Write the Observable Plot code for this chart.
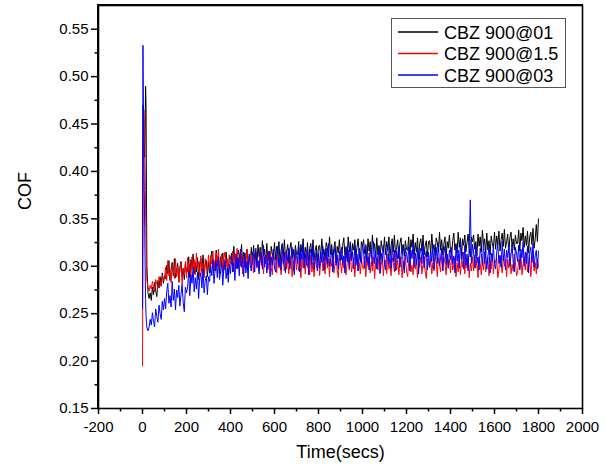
<!DOCTYPE html>
<html>
<head>
<meta charset="utf-8">
<script src="https://cdn.jsdelivr.net/npm/d3@7"></script>
<script src="https://cdn.jsdelivr.net/npm/@observablehq/plot@0.6"></script>
<style>
  html, body { margin: 0; padding: 0; background: #fff; overflow: hidden; }
  #chart { position: relative; width: 606px; height: 470px; }
  #chart svg { display: block; }
  #box { position: absolute; box-sizing: border-box; border: 1.5px solid #000; pointer-events: none; }
</style>
</head>
<body>
<div id="chart"></div>
<script>
// ---- data ----
const seriesNames = ["CBZ 900@01", "CBZ 900@1.5", "CBZ 900@03"];
const headTimes = [0, 2, 4, 6, 8, 10, 12, 14, 16, 18, 20, 25];
const bodyTimes = d3.range(30, 1801, 5); // sampling grid, secs
const times = headTimes.concat(bodyTimes);

const cof01 = [
  0.262, 0.470, 0.462, 0.445, 0.430, 0.415, 0.448, 0.490, 0.470, 0.380, 0.300, 0.272,
  0.266, 0.272, 0.264, 0.278, 0.270, 0.283, 0.274, 0.268, 0.285, 0.277, 0.289, 0.279, 0.293, 0.282, 0.290,
  0.287, 0.301, 0.292, 0.306, 0.285, 0.297, 0.304, 0.290, 0.308, 0.288, 0.295, 0.303, 0.283, 0.299, 0.305, 0.289, 0.298, 0.286, 0.302, 0.293,
  0.296, 0.310, 0.288, 0.307, 0.299, 0.313, 0.292, 0.304, 0.294, 0.309, 0.286, 0.303, 0.308, 0.295, 0.312, 0.291, 0.301, 0.306, 0.289, 0.305,
  0.293, 0.308, 0.316, 0.298, 0.305, 0.295, 0.317, 0.301, 0.311, 0.292, 0.310, 0.303, 0.314, 0.296, 0.306, 0.315, 0.299, 0.291, 0.312, 0.307,
  0.314, 0.300, 0.321, 0.305, 0.310, 0.298, 0.317, 0.312, 0.302, 0.323, 0.304, 0.315, 0.299, 0.311, 0.318, 0.296, 0.313, 0.306, 0.320, 0.303,
  0.322, 0.307, 0.315, 0.300, 0.323, 0.310, 0.320, 0.304, 0.327, 0.311, 0.318, 0.303, 0.324, 0.306, 0.316, 0.301, 0.321, 0.313, 0.308, 0.325,
  0.307, 0.321, 0.312, 0.326, 0.305, 0.317, 0.324, 0.310, 0.328, 0.308, 0.315, 0.323, 0.303, 0.319, 0.325, 0.309, 0.318, 0.306, 0.322, 0.313,
  0.312, 0.326, 0.304, 0.323, 0.315, 0.329, 0.308, 0.320, 0.310, 0.325, 0.302, 0.319, 0.324, 0.311, 0.328, 0.307, 0.317, 0.322, 0.305, 0.321,
  0.322, 0.308, 0.329, 0.313, 0.318, 0.306, 0.325, 0.320, 0.310, 0.331, 0.312, 0.323, 0.307, 0.319, 0.326, 0.304, 0.321, 0.314, 0.328, 0.311,
  0.307, 0.322, 0.330, 0.312, 0.319, 0.309, 0.331, 0.315, 0.325, 0.306, 0.324, 0.317, 0.328, 0.310, 0.320, 0.329, 0.313, 0.305, 0.326, 0.321,
  0.328, 0.313, 0.321, 0.306, 0.329, 0.316, 0.326, 0.310, 0.333, 0.317, 0.324, 0.309, 0.330, 0.312, 0.322, 0.307, 0.327, 0.319, 0.314, 0.331,
  0.312, 0.326, 0.317, 0.331, 0.310, 0.322, 0.329, 0.315, 0.333, 0.313, 0.320, 0.328, 0.308, 0.324, 0.330, 0.314, 0.323, 0.311, 0.327, 0.318,
  0.317, 0.331, 0.309, 0.328, 0.320, 0.334, 0.313, 0.325, 0.315, 0.330, 0.307, 0.324, 0.329, 0.316, 0.333, 0.312, 0.322, 0.327, 0.310, 0.326,
  0.327, 0.313, 0.334, 0.318, 0.323, 0.311, 0.330, 0.325, 0.315, 0.336, 0.317, 0.328, 0.312, 0.324, 0.331, 0.309, 0.326, 0.319, 0.333, 0.316,
  0.312, 0.327, 0.335, 0.317, 0.324, 0.314, 0.336, 0.320, 0.330, 0.311, 0.329, 0.322, 0.333, 0.315, 0.325, 0.334, 0.318, 0.310, 0.331, 0.326,
  0.333, 0.318, 0.326, 0.311, 0.334, 0.321, 0.331, 0.315, 0.338, 0.322, 0.329, 0.314, 0.335, 0.317, 0.327, 0.312, 0.332, 0.324, 0.319, 0.336,
  0.318, 0.332, 0.323, 0.337, 0.316, 0.328, 0.335, 0.321, 0.339, 0.319, 0.326, 0.334, 0.314, 0.330, 0.336, 0.320, 0.329, 0.317, 0.333, 0.324,
  0.324, 0.338, 0.316, 0.335, 0.327, 0.341, 0.320, 0.332, 0.322, 0.337, 0.314, 0.331, 0.336, 0.323, 0.340, 0.319, 0.329, 0.344, 0.326, 0.350
];
const cof15 = [
  0.195, 0.320, 0.440, 0.465, 0.455, 0.430, 0.400, 0.360, 0.330, 0.300, 0.285, 0.278,
  0.274, 0.280, 0.276, 0.284, 0.278, 0.273, 0.286, 0.281, 0.277, 0.289, 0.283, 0.279, 0.291, 0.285, 0.288,
  0.299, 0.285, 0.306, 0.290, 0.295, 0.283, 0.302, 0.297, 0.287, 0.308, 0.289, 0.300, 0.284, 0.296, 0.303, 0.281, 0.298, 0.291, 0.305, 0.288,
  0.309, 0.294, 0.302, 0.287, 0.310, 0.297, 0.307, 0.291, 0.314, 0.298, 0.305, 0.290, 0.311, 0.293, 0.303, 0.288, 0.308, 0.300, 0.295, 0.312,
  0.297, 0.311, 0.302, 0.316, 0.295, 0.307, 0.314, 0.300, 0.318, 0.298, 0.305, 0.313, 0.293, 0.309, 0.315, 0.299, 0.308, 0.296, 0.312, 0.303,
  0.302, 0.316, 0.294, 0.313, 0.305, 0.319, 0.298, 0.310, 0.300, 0.315, 0.292, 0.309, 0.314, 0.301, 0.318, 0.297, 0.307, 0.312, 0.295, 0.311,
  0.293, 0.308, 0.316, 0.298, 0.305, 0.295, 0.317, 0.301, 0.311, 0.292, 0.310, 0.303, 0.314, 0.296, 0.306, 0.315, 0.299, 0.291, 0.312, 0.307,
  0.307, 0.293, 0.314, 0.298, 0.303, 0.291, 0.310, 0.305, 0.295, 0.316, 0.297, 0.308, 0.292, 0.304, 0.311, 0.289, 0.306, 0.299, 0.313, 0.296,
  0.310, 0.295, 0.303, 0.288, 0.311, 0.298, 0.308, 0.292, 0.315, 0.299, 0.306, 0.291, 0.312, 0.294, 0.304, 0.289, 0.309, 0.301, 0.296, 0.313,
  0.290, 0.305, 0.313, 0.295, 0.302, 0.292, 0.314, 0.298, 0.308, 0.289, 0.307, 0.300, 0.311, 0.293, 0.303, 0.312, 0.296, 0.288, 0.309, 0.304,
  0.293, 0.307, 0.298, 0.312, 0.291, 0.303, 0.310, 0.296, 0.314, 0.294, 0.301, 0.309, 0.289, 0.305, 0.311, 0.295, 0.304, 0.292, 0.308, 0.299,
  0.297, 0.311, 0.289, 0.308, 0.300, 0.314, 0.293, 0.305, 0.295, 0.310, 0.287, 0.304, 0.309, 0.296, 0.313, 0.292, 0.302, 0.307, 0.290, 0.306,
  0.306, 0.292, 0.313, 0.297, 0.302, 0.290, 0.309, 0.304, 0.294, 0.315, 0.296, 0.307, 0.291, 0.303, 0.310, 0.288, 0.305, 0.298, 0.312, 0.295,
  0.289, 0.304, 0.312, 0.294, 0.301, 0.291, 0.313, 0.297, 0.307, 0.288, 0.306, 0.299, 0.310, 0.292, 0.302, 0.311, 0.295, 0.287, 0.308, 0.303,
  0.299, 0.308, 0.292, 0.304, 0.295, 0.311, 0.305, 0.289, 0.309, 0.301, 0.294, 0.314, 0.296, 0.310, 0.303, 0.291, 0.312, 0.298, 0.307, 0.293,
  0.313, 0.296, 0.301, 0.309, 0.289, 0.304, 0.294, 0.312, 0.291, 0.306, 0.299, 0.315, 0.292, 0.308, 0.298, 0.311, 0.288, 0.303, 0.295, 0.310,
  0.295, 0.312, 0.298, 0.305, 0.288, 0.310, 0.303, 0.291, 0.307, 0.296, 0.315, 0.294, 0.304, 0.309, 0.290, 0.302, 0.297, 0.313, 0.292, 0.306,
  0.304, 0.309, 0.288, 0.296, 0.312, 0.303, 0.293, 0.311, 0.300, 0.307, 0.289, 0.308, 0.298, 0.314, 0.292, 0.302, 0.295, 0.313, 0.305, 0.290,
  0.293, 0.307, 0.298, 0.312, 0.291, 0.303, 0.310, 0.296, 0.314, 0.294, 0.301, 0.309, 0.289, 0.305, 0.311, 0.295, 0.304, 0.292, 0.308, 0.299
];
const cof03 = [
  0.255, 0.533, 0.470, 0.420, 0.380, 0.340, 0.300, 0.265, 0.248, 0.240, 0.235, 0.232,
  0.236, 0.244, 0.238, 0.251, 0.242, 0.236, 0.255, 0.247, 0.241, 0.259, 0.250, 0.244, 0.263, 0.254, 0.266,
  0.255, 0.273, 0.282, 0.261, 0.269, 0.257, 0.284, 0.264, 0.276, 0.254, 0.275, 0.267, 0.280, 0.258, 0.270, 0.281, 0.262, 0.252, 0.278, 0.272,
  0.278, 0.295, 0.269, 0.291, 0.282, 0.299, 0.273, 0.288, 0.276, 0.294, 0.266, 0.287, 0.293, 0.277, 0.297, 0.272, 0.284, 0.290, 0.270, 0.289,
  0.284, 0.301, 0.290, 0.307, 0.282, 0.296, 0.305, 0.288, 0.310, 0.286, 0.294, 0.304, 0.280, 0.299, 0.306, 0.287, 0.298, 0.283, 0.302, 0.292,
  0.312, 0.294, 0.303, 0.285, 0.313, 0.297, 0.309, 0.290, 0.318, 0.299, 0.307, 0.289, 0.314, 0.293, 0.305, 0.287, 0.311, 0.301, 0.295, 0.315,
  0.311, 0.294, 0.319, 0.300, 0.306, 0.292, 0.315, 0.309, 0.297, 0.322, 0.299, 0.312, 0.293, 0.307, 0.316, 0.289, 0.310, 0.301, 0.318, 0.298,
  0.294, 0.312, 0.321, 0.300, 0.308, 0.296, 0.323, 0.303, 0.315, 0.293, 0.314, 0.306, 0.319, 0.297, 0.309, 0.320, 0.301, 0.291, 0.317, 0.311,
  0.303, 0.320, 0.294, 0.316, 0.307, 0.324, 0.298, 0.313, 0.301, 0.319, 0.291, 0.312, 0.318, 0.302, 0.322, 0.297, 0.309, 0.315, 0.295, 0.314,
  0.298, 0.315, 0.304, 0.321, 0.296, 0.310, 0.319, 0.302, 0.324, 0.300, 0.308, 0.318, 0.294, 0.313, 0.320, 0.301, 0.312, 0.297, 0.316, 0.306,
  0.320, 0.302, 0.311, 0.293, 0.321, 0.305, 0.317, 0.298, 0.326, 0.307, 0.315, 0.297, 0.322, 0.301, 0.313, 0.295, 0.319, 0.309, 0.303, 0.323,
  0.315, 0.298, 0.323, 0.304, 0.310, 0.296, 0.319, 0.313, 0.301, 0.326, 0.303, 0.316, 0.297, 0.311, 0.320, 0.293, 0.314, 0.305, 0.322, 0.302,
  0.296, 0.314, 0.323, 0.302, 0.310, 0.298, 0.325, 0.305, 0.317, 0.295, 0.316, 0.308, 0.321, 0.299, 0.311, 0.322, 0.303, 0.293, 0.319, 0.313,
  0.304, 0.321, 0.295, 0.317, 0.308, 0.325, 0.299, 0.314, 0.302, 0.320, 0.292, 0.313, 0.319, 0.303, 0.323, 0.298, 0.310, 0.316, 0.296, 0.315,
  0.299, 0.316, 0.305, 0.322, 0.297, 0.311, 0.320, 0.303, 0.325, 0.301, 0.309, 0.319, 0.295, 0.314, 0.321, 0.302, 0.313, 0.298, 0.317, 0.307,
  0.320, 0.302, 0.311, 0.293, 0.321, 0.305, 0.317, 0.298, 0.326, 0.307, 0.315, 0.297, 0.322, 0.301, 0.313, 0.295, 0.319, 0.370, 0.303, 0.323,
  0.315, 0.298, 0.323, 0.304, 0.310, 0.296, 0.319, 0.313, 0.301, 0.326, 0.303, 0.316, 0.297, 0.311, 0.320, 0.293, 0.314, 0.305, 0.322, 0.302,
  0.297, 0.315, 0.324, 0.303, 0.311, 0.299, 0.326, 0.306, 0.318, 0.296, 0.317, 0.309, 0.322, 0.300, 0.312, 0.323, 0.304, 0.294, 0.320, 0.314,
  0.305, 0.322, 0.296, 0.318, 0.309, 0.326, 0.300, 0.315, 0.303, 0.321, 0.293, 0.314, 0.320, 0.304, 0.324, 0.299, 0.311, 0.317, 0.297, 0.316
];
const seriesColors = ["#000000", "#ff0000", "#0000ff"];

const xTicks = [-200, 0, 200, 400, 600, 800, 1000, 1200, 1400, 1600, 1800, 2000];
const xMinorTicks = [-100, 100, 300, 500, 700, 900, 1100, 1300, 1500, 1700, 1900];
const yTicks = [0.15, 0.20, 0.25, 0.30, 0.35, 0.40, 0.45, 0.50, 0.55];
const yMinorTicks = [0.175, 0.225, 0.275, 0.325, 0.375, 0.425, 0.475, 0.525];
const xDomain = [-200, 2000];
const yDomain = [0.15, 0.575];

// ---- build table ----
const allSeries = [cof01, cof15, cof03];
const rows = [];
allSeries.forEach((vals, s) => {
  vals.forEach((v, i) => rows.push({series: seriesNames[s], t: times[i], cof: v}));
});

const font = "'Liberation Sans', Arial, sans-serif";

const chart = Plot.plot({
  width: 606,
  height: 470,
  marginLeft: 98,
  marginRight: 24,
  marginTop: 5,
  marginBottom: 62,
  style: {fontFamily: font},
  x: {domain: xDomain},
  y: {domain: yDomain},
  color: {domain: seriesNames, range: seriesColors},
  marks: [
    Plot.line(rows, {x: "t", y: "cof", z: "series", stroke: "series", strokeWidth: 1}),
    Plot.axisX({ticks: xTicks, tickSize: 6, tickPadding: 7, fontSize: 15, tickFormat: d => String(d), label: null, strokeWidth: 1.5}),
    Plot.axisX({ticks: xMinorTicks, tickSize: 3.5, text: null, label: null, strokeWidth: 1.5}),
    Plot.axisY({ticks: yTicks, tickSize: 7, tickPadding: 3, fontSize: 15, tickFormat: d3.format(".2f"), label: null, strokeWidth: 1.5}),
    Plot.axisY({ticks: yMinorTicks, tickSize: 3.5, text: null, label: null, strokeWidth: 1.5}),
    Plot.text(["Time(secs)"], {frameAnchor: "bottom", dy: 49, fontSize: 18, fill: "black"}),
    Plot.text(["COF"], {frameAnchor: "left", dx: -73, dy: 3, rotate: -90, fontSize: 18, fill: "black"}),
    Plot.frame({stroke: "black", strokeWidth: 1.6})
  ]
});

// ---- legend box (inside the plot, top-right) ----
const svg = d3.select(chart);
const lg = svg.append("g").attr("font-family", font).attr("text-anchor", "start");
lg.append("rect").attr("x", 391.5).attr("y", 18.5).attr("width", 174).attr("height", 69)
  .attr("fill", "white").attr("stroke", "#555").attr("stroke-width", 1);
seriesNames.forEach((name, i) => {
  const yy = 32 + i * 21.5;
  lg.append("line").attr("x1", 398).attr("x2", 438).attr("y1", yy).attr("y2", yy)
    .attr("stroke", seriesColors[i]).attr("stroke-width", 1.3);
  lg.append("text").attr("x", 444).attr("y", yy + 6.5).attr("font-size", 18)
    .attr("fill", "black").text(name);
});

const holder = document.getElementById("chart");
holder.appendChild(chart);

// ---- plot-area border as an HTML overlay, placed from the chart's own scales ----
const sx = chart.scale("x"), sy = chart.scale("y");
const bx0 = sx.apply(xDomain[0]), bx1 = sx.apply(xDomain[1]);
const by0 = sy.apply(yDomain[1]), by1 = sy.apply(yDomain[0]);
const box = document.createElement("div");
box.id = "box";
box.style.left = (bx0 - 0.75) + "px";
box.style.top = (by0 - 0.75) + "px";
box.style.width = (bx1 - bx0 + 1.5) + "px";
box.style.height = (by1 - by0 + 1.5) + "px";
holder.appendChild(box);
</script>
</body>
</html>
